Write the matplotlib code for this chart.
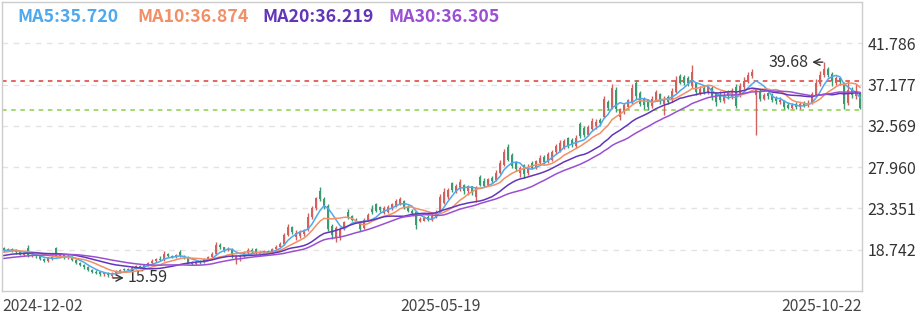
import matplotlib.pyplot as plt
import numpy as np
import pandas as pd

plt.rcParams['font.family'] = ['Noto Sans CJK SC', 'DejaVu Sans']

# daily candles, 2024-12-02 .. 2025-10-22
opens = [18.9, 18.7, 18.8, 18.65, 18.5, 18.2, 18.9, 18.1, 18.2, 18.0,
         17.7, 17.5, 17.8, 18.9, 18.0, 18.1, 17.9, 17.95, 17.6, 17.3,
         17.0, 16.8, 16.5, 16.3, 16.2, 16.0, 16.1, 15.85, 16.05, 16.3,
         16.55, 16.5, 16.6, 16.75, 16.9, 16.8, 17.0, 17.3, 17.5, 17.7,
         17.6, 18.3, 18.0, 17.9, 18.5, 18.0, 17.9, 17.3, 17.2, 17.4,
         17.35, 17.7, 17.9, 18.3, 19.3, 19.0, 18.7, 18.8, 17.6, 17.9,
         18.0, 18.4, 18.7, 18.8, 18.4, 18.3, 18.6, 18.5, 18.8, 19.1,
         19.4, 20.4, 21.3, 20.2, 20.3, 20.5, 20.9, 22.4, 23.4, 25.3,
         24.4, 23.6, 21.4, 20.0, 20.2, 21.0, 23.0, 22.5, 22.1, 21.9,
         21.2, 22.1, 23.3, 23.8, 23.5, 22.8, 23.0, 23.4, 23.6, 23.8,
         24.2, 23.5, 23.1, 22.9, 21.9, 22.0, 22.4, 22.2, 22.4, 22.9,
         24.0, 24.6, 26.2, 25.3, 25.5, 26.0, 25.3, 25.8, 24.6, 26.9,
         26.4, 26.0, 26.8, 26.5, 27.3, 28.2, 30.2, 29.3, 28.5, 27.3,
         28.2, 27.3, 28.4, 27.9, 28.4, 29.1, 28.5, 28.8, 29.6, 29.8,
         30.2, 31.2, 31.0, 30.3, 32.8, 32.3, 31.6, 32.2, 32.5, 33.2,
         33.6, 35.2, 34.6, 36.6, 33.6, 34.2, 34.7, 35.2, 37.4, 36.2,
         35.6, 35.4, 34.8, 35.5, 36.1, 35.0, 35.8, 35.4, 36.4, 38.1,
         38.0, 37.9, 37.0, 37.3, 36.2, 36.8, 36.3, 36.8, 36.2, 35.9,
         35.3, 36.3, 35.8, 36.9, 36.0, 36.9, 37.5, 38.1, 36.0, 36.5,
         35.6, 36.2, 36.0, 35.7, 35.2, 35.3, 34.9, 34.6, 35.0, 34.7,
         35.1, 34.9, 35.1, 36.0, 37.2, 38.2, 38.9, 38.4, 37.4, 37.9,
         37.3, 35.1, 36.6, 35.9, 36.2]
closes = [18.7, 18.8, 18.6, 18.5, 18.2, 18.4, 18.1, 18.2, 18.0, 17.7,
          17.5, 17.8, 17.9, 18.0, 18.1, 17.9, 18.0, 17.6, 17.3, 17.0,
          16.8, 16.5, 16.3, 16.15, 16.0, 16.1, 15.9, 16.05, 16.3, 16.5,
          16.45, 16.6, 16.75, 16.9, 16.8, 17.0, 17.3, 17.5, 17.7, 17.6,
          18.3, 18.0, 17.9, 18.1, 18.0, 17.9, 17.3, 17.2, 17.4, 17.35,
          17.7, 17.9, 18.3, 19.3, 19.0, 18.7, 18.8, 18.1, 17.9, 18.0,
          18.4, 18.7, 18.5, 18.4, 18.3, 18.6, 18.5, 18.8, 19.1, 19.4,
          20.4, 21.3, 20.7, 20.6, 20.7, 20.9, 22.4, 23.4, 24.5, 24.4,
          23.5, 21.0, 20.4, 21.2, 21.0, 21.8, 22.4, 22.1, 21.9, 21.1,
          22.1, 22.6, 22.9, 23.1, 23.2, 23.4, 23.5, 23.8, 24.2, 24.4,
          23.5, 23.1, 22.8, 21.5, 22.2, 22.3, 22.1, 22.5, 23.0, 24.6,
          25.2, 25.4, 25.4, 25.9, 26.3, 25.3, 25.8, 25.2, 25.6, 26.0,
          25.9, 26.6, 26.4, 27.3, 28.4, 29.6, 28.8, 28.1, 27.7, 27.9,
          27.2, 28.0, 27.9, 28.6, 29.0, 28.5, 29.4, 29.6, 30.3, 30.7,
          30.9, 30.3, 30.5, 31.2, 31.4, 31.6, 32.4, 33.1, 33.0, 32.9,
          35.6, 34.6, 36.8, 34.4, 34.4, 34.9, 35.4, 36.8, 35.9, 35.0,
          34.9, 34.7, 35.6, 36.3, 35.3, 35.6, 35.2, 36.5, 37.7, 37.4,
          37.3, 37.3, 38.6, 36.3, 36.7, 36.4, 36.9, 35.8, 35.2, 35.5,
          36.0, 35.9, 36.4, 34.8, 37.0, 37.6, 38.2, 38.6, 36.6, 35.6,
          36.0, 35.9, 35.4, 35.3, 35.5, 34.7, 34.6, 34.9, 34.7, 35.0,
          34.9, 35.1, 36.1, 37.3, 38.3, 38.9, 38.3, 37.6, 37.9, 37.45,
          35.0, 36.6, 36.0, 36.4, 34.6]
highs = [19.0, 18.95, 18.9, 18.8, 18.6, 18.5, 19.3, 18.35, 18.3, 18.1,
         17.85, 17.9, 18.1, 19.1, 18.3, 18.2, 18.15, 18.0, 17.7, 17.4,
         17.1, 16.95, 16.6, 16.45, 16.3, 16.25, 16.2, 16.3, 16.45, 16.6,
         16.7, 16.75, 16.9, 17.0, 17.05, 17.15, 17.4, 17.7, 17.85, 18.0,
         18.6, 18.4, 18.2, 18.25, 18.7, 18.1, 18.0, 17.5, 17.5, 17.55,
         17.85, 18.05, 18.45, 19.6, 19.5, 19.1, 19.0, 18.9, 18.1, 18.2,
         18.6, 18.9, 18.95, 18.95, 18.6, 18.7, 18.75, 18.9, 19.25, 19.6,
         20.6, 21.6, 21.4, 20.9, 20.9, 21.1, 22.8, 23.6, 24.6, 25.7,
         24.6, 23.8, 21.6, 21.4, 21.3, 22.0, 23.3, 22.6, 22.3, 22.0,
         22.3, 22.8, 23.7, 24.0, 23.6, 23.6, 23.7, 24.0, 24.4, 24.6,
         24.3, 23.7, 23.3, 23.1, 22.4, 22.5, 22.6, 22.7, 23.2, 25.0,
         25.6, 25.6, 26.3, 26.1, 26.6, 26.1, 26.0, 25.9, 25.8, 27.1,
         26.7, 26.8, 27.0, 27.6, 28.8, 30.0, 30.5, 29.5, 28.7, 28.1,
         28.3, 28.3, 28.6, 28.8, 29.3, 29.3, 29.7, 29.9, 30.5, 31.0,
         31.1, 31.3, 31.2, 31.5, 33.0, 32.5, 32.7, 33.4, 33.3, 33.4,
         35.9, 35.5, 37.2, 36.9, 34.6, 35.1, 35.6, 37.2, 37.7, 36.5,
         35.8, 35.6, 35.9, 36.6, 36.2, 35.9, 36.0, 36.8, 38.1, 38.4,
         38.2, 38.1, 39.4, 37.5, 37.0, 37.0, 37.1, 37.0, 36.4, 36.5,
         36.3, 36.6, 36.8, 37.2, 37.3, 38.0, 38.6, 38.9, 36.8, 36.7,
         36.2, 36.4, 36.2, 35.9, 35.8, 35.5, 35.2, 35.1, 35.2, 35.2,
         35.3, 35.4, 36.4, 37.8, 38.7, 39.68, 39.1, 38.6, 38.1, 38.0,
         37.5, 37.6, 36.9, 37.2, 36.4]
lows = [18.5, 18.55, 18.45, 18.3, 18.1, 18.0, 17.95, 17.9, 17.85, 17.6,
        17.35, 17.4, 17.6, 17.9, 17.8, 17.7, 17.75, 17.5, 17.2, 16.9,
        16.6, 16.4, 16.1, 16.0, 15.85, 15.8, 15.7, 15.59, 15.9, 16.15,
        16.3, 16.35, 16.5, 16.6, 16.7, 16.7, 16.9, 17.2, 17.4, 17.5,
        17.5, 17.9, 17.8, 17.8, 17.9, 17.7, 17.1, 17.0, 17.0, 17.2,
        17.3, 17.6, 17.8, 18.2, 18.8, 18.5, 18.6, 17.8, 17.2, 17.5,
        17.9, 18.3, 18.4, 18.3, 18.1, 18.1, 18.35, 18.4, 18.7, 19.0,
        19.3, 20.3, 20.5, 19.8, 20.1, 20.3, 20.8, 22.2, 23.2, 24.2,
        23.3, 20.8, 19.9, 19.6, 19.8, 20.9, 22.2, 21.9, 21.7, 20.8,
        21.0, 21.9, 22.7, 22.9, 22.9, 22.7, 22.8, 23.2, 23.5, 23.7,
        23.3, 22.9, 22.6, 21.0, 21.8, 21.9, 21.9, 22.0, 22.3, 22.9,
        23.8, 24.4, 25.2, 25.1, 25.3, 25.0, 24.8, 24.9, 24.1, 25.8,
        25.7, 25.9, 26.2, 26.4, 27.2, 28.1, 28.6, 27.9, 27.5, 26.9,
        26.8, 27.1, 27.7, 27.7, 28.3, 28.3, 28.4, 28.6, 29.4, 29.7,
        30.0, 30.1, 30.2, 30.1, 31.2, 31.3, 31.4, 32.0, 32.2, 32.6,
        33.4, 34.3, 34.4, 34.1, 33.2, 33.9, 34.5, 35.0, 35.6, 34.8,
        34.5, 34.3, 34.6, 35.3, 35.0, 33.8, 35.0, 35.2, 36.2, 37.2,
        37.1, 37.0, 36.8, 36.0, 36.0, 36.1, 36.1, 35.5, 34.8, 35.2,
        35.1, 35.6, 35.6, 34.6, 35.8, 36.7, 37.3, 37.9, 31.5, 35.3,
        35.4, 35.6, 35.2, 35.0, 35.0, 34.5, 34.4, 34.4, 34.5, 34.5,
        34.7, 34.7, 35.0, 35.9, 37.0, 38.0, 38.0, 37.0, 37.1, 37.1,
        34.4, 34.9, 35.7, 35.6, 34.4]
# closes before 2024-12-02, only used to seed the moving averages
prior_closes = [16.9, 17.0, 17.2, 17.0, 16.8, 16.9, 17.1, 17.3, 17.5, 17.4,
                17.2, 17.3, 17.6, 17.8, 17.9, 17.7, 17.6, 17.8, 18.1, 18.3,
                18.2, 18.0, 18.1, 18.4, 18.6, 18.7, 18.5, 18.6, 18.8]

date_labels = {0: '2024-12-02', 109: '2025-05-19', 214: '2025-10-22'}
ma_windows = [5, 10, 20, 30]
ma_colors = ['#4ea9ee', '#f28f66', '#6236b8', '#9b4fd3']
ma_texts = ['MA5:35.720', 'MA10:36.874', 'MA20:36.219', 'MA30:36.305']
y_ticks = [18.742, 23.351, 27.960, 32.569, 37.177, 41.786]
y_tick_labels = ['18.742', '23.351', '27.960', '32.569', '37.177', '41.786']
upper_line = 37.54
lower_line = 34.33
low_label = '15.59'
high_label = '39.68'

up_color = '#d2605c'
down_color = '#3c9a70'

fig = plt.figure(figsize=(9.18, 3.22), dpi=100)
ax = fig.add_axes([2 / 918, 31 / 322, 860 / 918, 289 / 322])

n = len(closes)
x = np.arange(n)
o = np.array(opens)
c = np.array(closes)
h = np.array(highs)
l = np.array(lows)
up = c >= o
cols = np.where(up, up_color, down_color)

ax.vlines(x, l, h, colors=cols, linewidth=1.0, zorder=3)
ax.bar(x, np.maximum(np.abs(c - o), 0.06), bottom=np.minimum(o, c),
       width=0.6, color=cols, linewidth=0, zorder=3)

full = pd.Series(prior_closes + closes)
for w, col in zip(ma_windows, ma_colors):
    ma = full.rolling(w).mean().iloc[len(prior_closes):].values
    ax.plot(x, ma, color=col, linewidth=1.1, zorder=4)

ax.axhline(upper_line, color='#e03a32', linestyle=(0, (3, 3)), linewidth=1.1, zorder=2)
ax.axhline(lower_line, color='#8ccf4d', linestyle=(0, (3, 3)), linewidth=1.1, zorder=2)

# low / high markers
i_low = int(np.argmin(l))
i_high = int(np.argmax(h))
ax.annotate(low_label, xy=(i_low + 0.3, l[i_low]), xytext=(i_low + 4, l[i_low]),
            fontsize=11.5, color='#333333', va='center', ha='left',
            arrowprops=dict(arrowstyle='<-', color='#333333', lw=1.0,
                            shrinkA=1, shrinkB=0))
ax.annotate(high_label, xy=(i_high - 0.3, h[i_high]), xytext=(i_high - 4, h[i_high]),
            fontsize=11.5, color='#333333', va='center', ha='right',
            arrowprops=dict(arrowstyle='<-', color='#333333', lw=1.0,
                            shrinkA=1, shrinkB=0))

step = y_ticks[1] - y_ticks[0]
ax.set_ylim(y_ticks[0] - step, y_ticks[-1] + step)
ax.set_xlim(-0.5, n - 0.5)
ax.set_yticks(y_ticks)
ax.set_yticklabels(y_tick_labels)
ax.yaxis.tick_right()
ax.tick_params(axis='y', length=0, pad=4, labelsize=11.5, labelcolor='#333333')
ax.set_xticks([])
for t in y_ticks:
    ax.axhline(t, color='#e3e3e3', linestyle=(0, (4, 4)), linewidth=1.0, zorder=1)
for s in ax.spines.values():
    s.set_color('#cccccc')
    s.set_linewidth(1.0)

for k, (i, txt) in enumerate(date_labels.items()):
    ha = 'left' if k == 0 else ('right' if k == len(date_labels) - 1 else 'center')
    xpos = -0.5 if k == 0 else (n - 0.5 if ha == 'right' else i)
    ax.text(xpos, -0.052, txt, transform=ax.get_xaxis_transform(), ha=ha, va='center',
            fontsize=11.3, color='#444444')

xs = [17, 137, 262, 388]
for xp, txt, col in zip(xs, ma_texts, ma_colors):
    fig.text(xp / 918, 1 - 17 / 322, txt, color=col, fontsize=12.8, fontweight='bold',
             va='center', ha='left')

fig.savefig('out.png', dpi=100)
